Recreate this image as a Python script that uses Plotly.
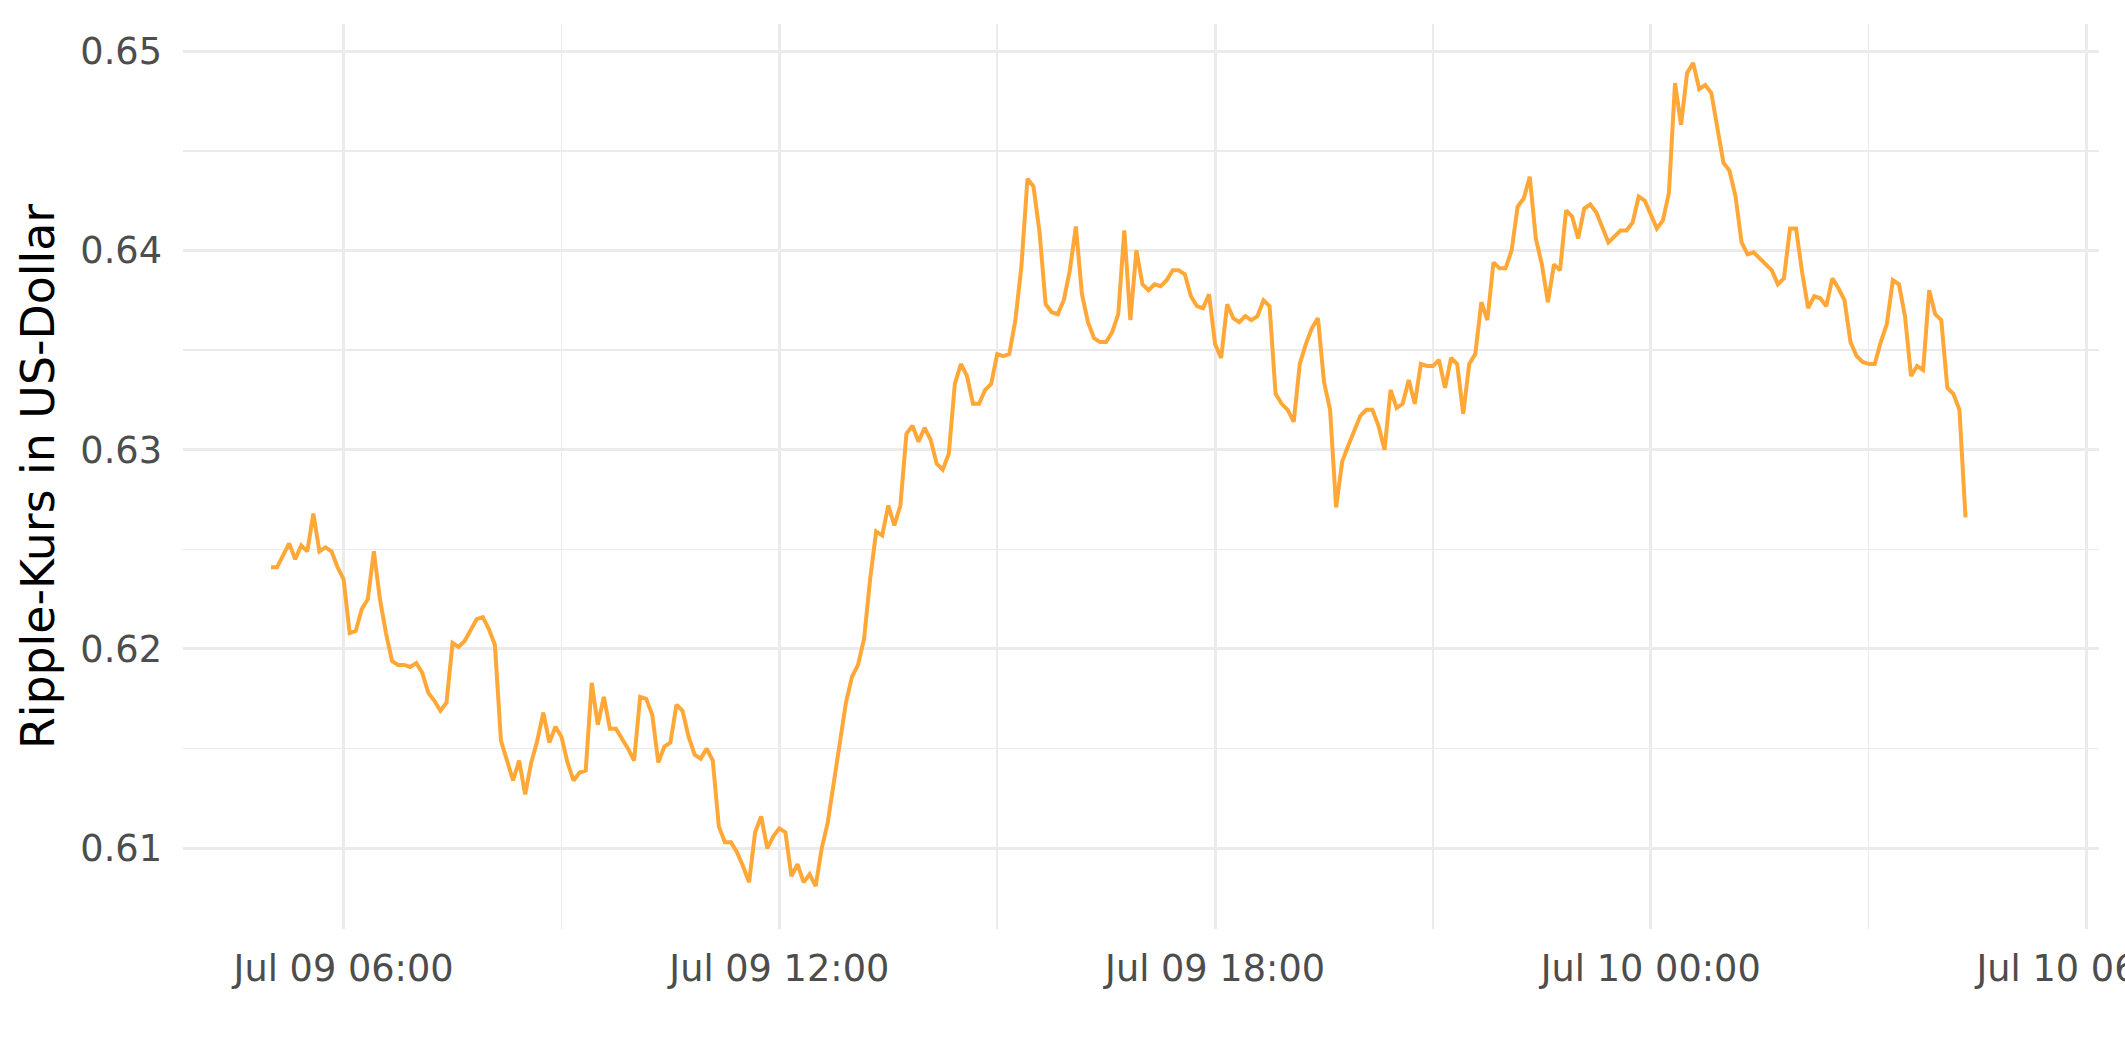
import pandas as pd
import plotly.graph_objects as go

# 5-minute Ripple (XRP) prices, starting Jul 09 05:00
start_time = "2024-07-09 05:00"
prices = [
    0.6241, 0.6241, 0.6247, 0.6253, 0.6245, 0.6252, 0.6249, 0.6268, 0.6249, 0.6251,
    0.6249, 0.6241, 0.6235, 0.6208, 0.6209, 0.6220, 0.6225, 0.6249, 0.6225, 0.6208,
    0.6194, 0.6192, 0.6192, 0.6191, 0.6193, 0.6188, 0.6178, 0.6174, 0.6169, 0.6173,
    0.6203, 0.6201, 0.6204, 0.6210, 0.6215, 0.6216, 0.6210, 0.6202, 0.6154, 0.6144,
    0.6134, 0.6144, 0.6127, 0.6143, 0.6154, 0.6168, 0.6153, 0.6161, 0.6156, 0.6143,
    0.6134, 0.6138, 0.6139, 0.6183, 0.6162, 0.6176, 0.6160, 0.6160, 0.6155, 0.6150,
    0.6144, 0.6176, 0.6175, 0.6167, 0.6143, 0.6151, 0.6153, 0.6172, 0.6169, 0.6156,
    0.6147, 0.6145, 0.6150, 0.6144, 0.6111, 0.6103, 0.6103, 0.6098, 0.6091, 0.6083,
    0.6108, 0.6116, 0.6100, 0.6106, 0.6110, 0.6108, 0.6086, 0.6092, 0.6083, 0.6087,
    0.6081, 0.6100, 0.6113, 0.6134, 0.6154, 0.6173, 0.6186, 0.6192, 0.6205, 0.6235,
    0.6259, 0.6257, 0.6272, 0.6262, 0.6272, 0.6308, 0.6312, 0.6304, 0.6311, 0.6305,
    0.6293, 0.6290, 0.6298, 0.6333, 0.6343, 0.6337, 0.6323, 0.6323, 0.6330, 0.6333,
    0.6348, 0.6347, 0.6348, 0.6365, 0.6392, 0.6436, 0.6432, 0.6409, 0.6373, 0.6369,
    0.6368, 0.6375, 0.6390, 0.6412, 0.6378, 0.6364, 0.6356, 0.6354, 0.6354, 0.6359,
    0.6368, 0.6410, 0.6365, 0.6400, 0.6383, 0.6380, 0.6383, 0.6382, 0.6385, 0.6390,
    0.6390, 0.6388, 0.6377, 0.6372, 0.6371, 0.6378, 0.6353, 0.6346, 0.6373, 0.6366,
    0.6364, 0.6367, 0.6365, 0.6367, 0.6375, 0.6372, 0.6328, 0.6323, 0.6320, 0.6314,
    0.6343, 0.6353, 0.6361, 0.6366, 0.6334, 0.6320, 0.6271, 0.6294, 0.6302, 0.6309,
    0.6317, 0.6320, 0.6320, 0.6312, 0.6300, 0.6330, 0.6321, 0.6323, 0.6335, 0.6323,
    0.6343, 0.6342, 0.6342, 0.6345, 0.6331, 0.6346, 0.6343, 0.6318, 0.6343, 0.6348,
    0.6374, 0.6365, 0.6394, 0.6391, 0.6391, 0.6400, 0.6422, 0.6426, 0.6437, 0.6406,
    0.6393, 0.6374, 0.6393, 0.6390, 0.6420, 0.6417, 0.6406, 0.6421, 0.6423, 0.6419,
    0.6412, 0.6404, 0.6407, 0.6410, 0.6410, 0.6414, 0.6427, 0.6425, 0.6418, 0.6411,
    0.6415, 0.6429, 0.6484, 0.6463, 0.6489, 0.6494, 0.6481, 0.6483, 0.6479, 0.6460,
    0.6444, 0.6440, 0.6427, 0.6404, 0.6398, 0.6399, 0.6396, 0.6393, 0.6390, 0.6383,
    0.6386, 0.6411, 0.6411, 0.6389, 0.6371, 0.6377, 0.6376, 0.6372, 0.6386, 0.6381,
    0.6375, 0.6354, 0.6347, 0.6344, 0.6343, 0.6343, 0.6354, 0.6363, 0.6385, 0.6383,
    0.6367, 0.6337, 0.6342, 0.6340, 0.6380, 0.6368, 0.6365, 0.6331, 0.6328, 0.6320,
    0.6266,
]
times = pd.date_range(start=start_time, periods=len(prices), freq="5min")

x_range = ["2024-07-09 03:47:18", "2024-07-10 06:10:18"]
y_range = [0.60595, 0.65136]
y_title = "Ripple-Kurs in US-Dollar"

GRID = "#EBEBEB"
FONT = "DejaVu Sans"

fig = go.Figure()
fig.add_trace(go.Scatter(
    x=times, y=prices, mode="lines",
    line=dict(color="#FFA737", width=4),
    hoverinfo="skip", showlegend=False,
))

fig.update_layout(
    width=2125, height=1062,
    margin=dict(l=183, r=26, t=24, b=133),
    paper_bgcolor="white", plot_bgcolor="white",
    font=dict(family=FONT),
)
fig.update_xaxes(
    type="date", range=x_range, automargin=False,
    tick0="2024-07-09 00:00", dtick=6 * 3600 * 1000,
    tickformat="%b %d %H:%M",
    tickfont=dict(size=36.7, color="#4D4D4D", family=FONT),
    showgrid=True, gridcolor=GRID, gridwidth=3,
    minor=dict(tick0="2024-07-09 00:00", dtick=3 * 3600 * 1000,
               showgrid=True, gridcolor=GRID, gridwidth=1.5),
    zeroline=False, showline=False, ticks="",
    ticklabelstandoff=14, ticklabeloverflow="allow",
)
fig.update_yaxes(
    range=y_range, automargin=False,
    tick0=0.61, dtick=0.01, tickformat=".2f",
    tickfont=dict(size=36.7, color="#4D4D4D", family=FONT),
    showgrid=True, gridcolor=GRID, gridwidth=3,
    minor=dict(tick0=0.605, dtick=0.005, showgrid=True, gridcolor=GRID, gridwidth=1.5),
    zeroline=False, showline=False, ticks="",
    ticklabelstandoff=20,
    title=dict(text=y_title, font=dict(size=45.8, color="black", family=FONT), standoff=11),
)

fig.write_html(
    "out.html",
    config={"displayModeBar": False, "staticPlot": True},
    post_script="document.body.style.margin='0';document.body.style.overflow='hidden';",
)
